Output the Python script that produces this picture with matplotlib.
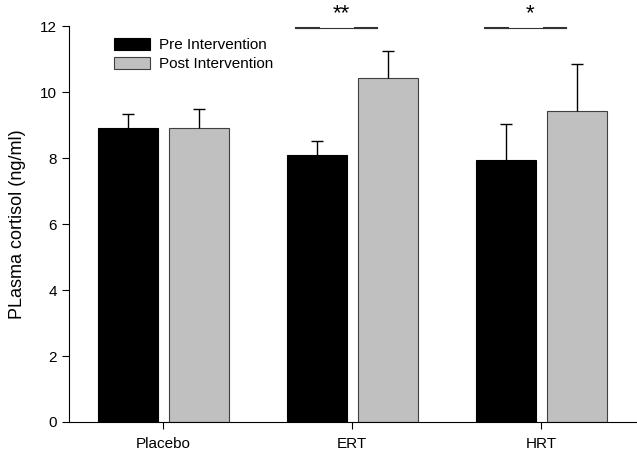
import matplotlib
matplotlib.use("Agg")
import matplotlib.pyplot as plt
import numpy as np

plt.rcParams['font.family'] = ['Liberation Sans', 'DejaVu Sans']

categories = ["Placebo", "ERT", "HRT"]
pre_values = [8.9, 8.1, 7.95]
pre_err = [0.44, 0.41, 1.07]
post_values = [8.9, 10.42, 9.43]
post_err = [0.59, 0.83, 1.41]
sig_groups = [1, 2]
sig_labels = ["**", "*"]

fig = plt.figure(figsize=(6.37, 4.54), dpi=100)
ax = fig.add_axes([0.108, 0.0705, 0.89, 0.872])

x = np.arange(len(categories))
w = 0.317
off = 0.187
ax.bar(x - off, pre_values, w, color='black', edgecolor='black', linewidth=0.8,
       label='Pre Intervention', zorder=2)
ax.bar(x + off, post_values, w, color='#c0c0c0', edgecolor='#404040', linewidth=0.8,
       label='Post Intervention', zorder=2)
for xs, vals, errs in [(x - off, pre_values, pre_err), (x + off, post_values, post_err)]:
    c = ax.errorbar(xs, vals, yerr=[np.zeros(3), errs], fmt='none', ecolor='black',
                    elinewidth=1, capsize=4.5, capthick=1, zorder=3)
    caps = c.lines[1]
    caps[0].set_visible(False)

for g, lab in zip(sig_groups, sig_labels):
    x0, x1 = g - 0.296, g + 0.132
    ax.plot([x0, x1], [11.94, 11.94], color='#333333', lw=0.8, clip_on=False)
    ax.plot([x0, x0 + 0.12], [11.94, 11.94], color='#333333', lw=1.5, clip_on=False)
    ax.plot([x1 - 0.12, x1], [11.94, 11.94], color='#333333', lw=1.5, clip_on=False)
    ax.text(g - 0.06, 12.05, lab, ha='center', va='bottom', fontsize=16, clip_on=False)

ax.set_xlim(-0.5, 2.5)
ax.set_ylim(0, 12)
ax.set_yticks(np.arange(0, 13, 2))
ax.set_xticks(x)
ax.set_xticklabels(categories, fontsize=11)
ax.tick_params(axis='y', labelsize=11, direction='out', length=5, width=0.8)
ax.tick_params(axis='x', direction='out', length=5, width=0.8, pad=6)
ax.set_ylabel('PLasma cortisol (ng/ml)', fontsize=13, labelpad=10)
ax.spines['top'].set_visible(False)
ax.spines['right'].set_visible(False)

ax.legend(loc='upper left', bbox_to_anchor=(0.055, 1.005), frameon=False, fontsize=11,
          handlelength=2.35, handleheight=0.85, labelspacing=0.3, handletextpad=0.6)

fig.savefig('out.png', dpi=100)
